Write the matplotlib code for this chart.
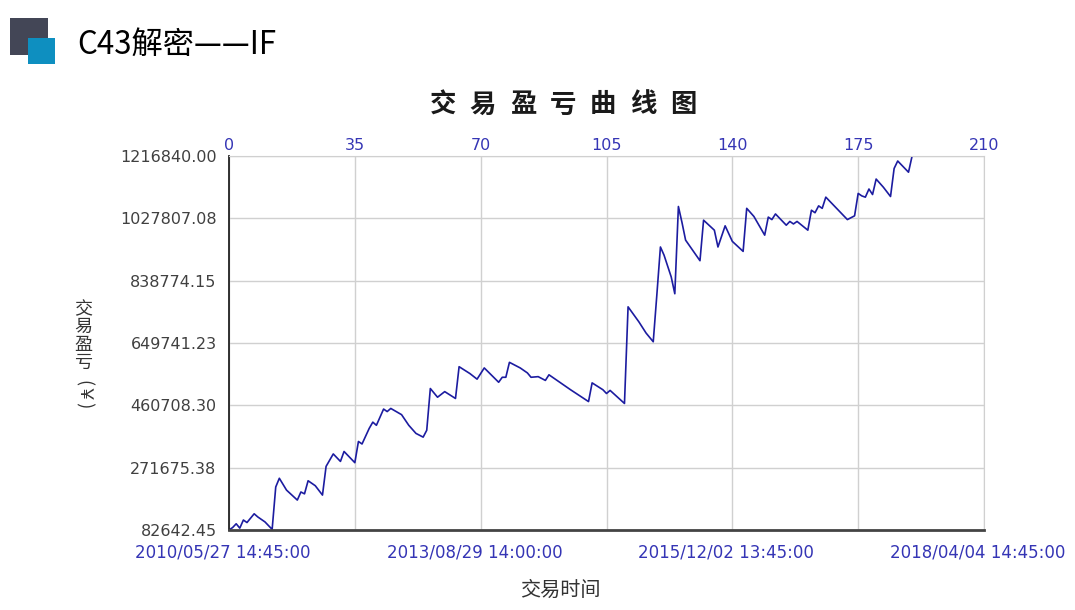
import matplotlib
matplotlib.use("Agg")
import matplotlib.pyplot as plt
from matplotlib.patches import Rectangle
from matplotlib.transforms import ScaledTranslation

plt.rcParams['font.family'] = ['Noto Sans CJK SC', 'DejaVu Sans']

# 交易序号与累计盈亏（从图上读出的折线拐点）
trade_idx = [0, 1, 2, 3, 4, 5, 7, 8, 10, 12, 13, 14, 16, 19, 20, 21, 22, 24, 26, 27,
             29, 31, 32, 35, 36, 37, 39, 40, 41, 43, 44, 45, 48, 50, 52, 54, 55, 56, 58, 60,
             63, 64, 67, 69, 71, 75, 76, 77, 78, 81, 83, 84, 86, 88, 89, 95, 100, 101, 104, 105,
             106, 110, 111, 114, 116, 118, 119, 120, 121, 123, 124, 125, 126, 127, 131, 132, 135, 136, 138, 140,
             143, 144, 146, 149, 150, 151, 152, 155, 156, 157, 158, 161, 162, 163, 164, 165, 166, 169, 172, 174,
             175, 176, 177, 178, 179, 180, 182, 184, 185, 186, 189, 190]
pnl = [82642, 90000, 101500, 88300, 112900, 105300, 131800, 122300, 107200, 84500,
       213100, 239500, 203600, 173400, 197900, 192300, 232000, 216900, 188500, 275500,
       313300, 290600, 320800, 286800, 351100, 343500, 390800, 409700, 400200, 449400,
       441800, 451300, 432400, 400200, 375600, 364300, 385100, 511700, 485300, 502300,
       481500, 577900, 557100, 540100, 574100, 530700, 545800, 545800, 591100, 574100,
       559000, 545800, 547700, 536300, 553300, 508000, 472100, 528800, 508000, 496600,
       506000, 466400, 759400, 714000, 680000, 653500, 795300, 940900, 916300, 850100,
       799100, 1063700, 1015000, 961700, 899300, 1022200, 991900, 940900, 1005100, 957900,
       927600, 1058100, 1033500, 976800, 1031600, 1024000, 1041100, 1007000, 1018400, 1010800,
       1018400, 991900, 1052400, 1044800, 1065600, 1058100, 1092100, 1058100, 1024000, 1035400,
       1103400, 1095900, 1092000, 1116700, 1100000, 1146900, 1122300, 1094000, 1179000, 1201700,
       1167700, 1216840]

y_ticks = [82642.45, 271675.38, 460708.30, 649741.23, 838774.15, 1027807.08, 1216840.00]
top_ticks = [0, 35, 70, 105, 140, 175, 210]
date_labels = ['2010/05/27 14:45:00', '', '2013/08/29 14:00:00', '',
               '2015/12/02 13:45:00', '', '2018/04/04 14:45:00']

W, H = 1075, 610
fig = plt.figure(figsize=(W / 100, H / 100), dpi=100)

# 左上角标题块
fig.add_artist(Rectangle((10 / W, 1 - 55 / H), 38 / W, 37 / H, transform=fig.transFigure,
                         color='#434656', lw=0))
fig.add_artist(Rectangle((28 / W, 1 - 64 / H), 27 / W, 26 / H, transform=fig.transFigure,
                         color='#0e8fc0', lw=0))
fig.text(77 / W, 1 - 45 / H, 'C43解密——IF', fontsize=22.5, color='black', va='center', ha='left')

ax = fig.add_axes([229 / W, 1 - 530 / H, 755 / W, 374 / H])
ax.plot(trade_idx, pnl, color='#1c1ca0', lw=1.2)
ax.set_xlim(0, 210)
ax.set_ylim(y_ticks[0], y_ticks[-1])

ax.set_yticks(y_ticks)
ax.set_yticklabels(['%.2f' % v for v in y_ticks], family='DejaVu Sans', fontsize=11.5, color='#404040')
ax.set_xticks(top_ticks)
ax.set_xticklabels(date_labels, family='DejaVu Sans', fontsize=12, color='#3535b5')
ax.tick_params(length=0)
ax.tick_params(axis='y', pad=9)
ax.tick_params(axis='x', pad=10)
for lbl in ax.get_xticklabels():
    lbl.set_transform(lbl.get_transform() + ScaledTranslation(-6 / 100, 0, fig.dpi_scale_trans))

sec = ax.secondary_xaxis('top')
sec.set_xticks(top_ticks)
sec.set_xticklabels([str(t) for t in top_ticks], family='DejaVu Sans', fontsize=11.5, color='#3535b5')
sec.tick_params(length=0, pad=2)
sec.spines['top'].set_visible(False)

ax.grid(True, color='#d0d0d0', lw=1)
ax.set_axisbelow(True)
ax.spines['left'].set_color('#222222')
ax.spines['left'].set_linewidth(1.3)
ax.spines['bottom'].set_color('#444444')
ax.spines['bottom'].set_linewidth(2)
ax.spines['top'].set_color('#d0d0d0')
ax.spines['right'].set_color('#d0d0d0')

# 图标题，逐字排开
title = '交易盈亏曲线图'
for i, ch in enumerate(title):
    fig.text((443 + i * 40) / W, 1 - 105 / H, ch, fontsize=19, fontweight='black',
             color='#1a1a1a', ha='center', va='center')

fig.text(560 / W, 1 - 590 / H, '交易时间', fontsize=14.5, color='#333333', ha='center', va='center')
fig.text(83 / W, 1 - 336 / H, '交\n易\n盈\n亏', fontsize=13, color='#333333', ha='center',
         va='center', linespacing=1.0)
fig.text(83 / W, 1 - 395 / H, '(￥)', fontsize=13, color='#333333', ha='center', va='center',
         rotation=-90)

fig.savefig('out.png', dpi=100)
